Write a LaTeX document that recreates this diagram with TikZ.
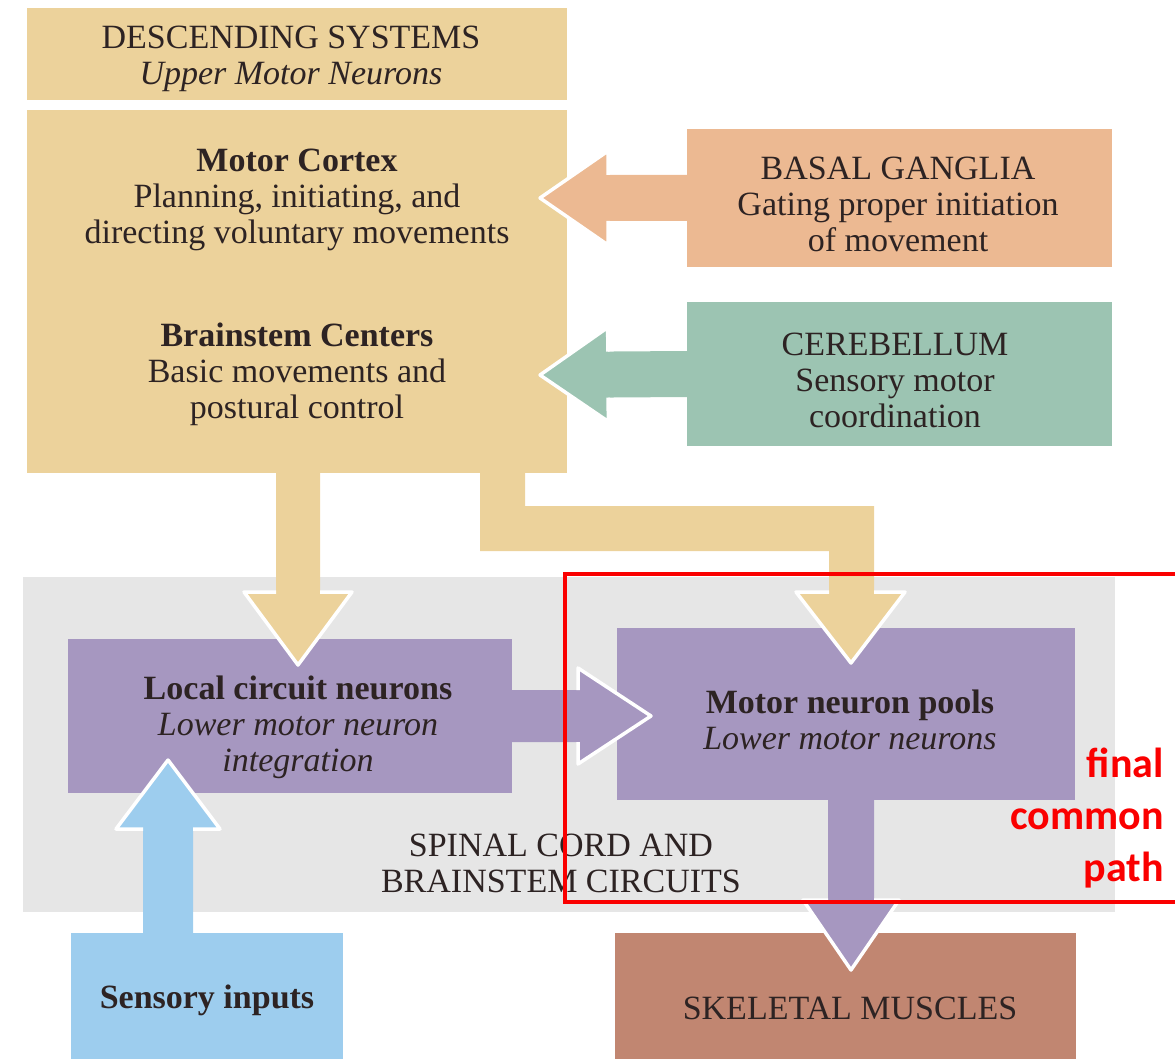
\documentclass[tikz,border=0pt]{standalone}
\usepackage{fontspec}
\setmainfont{Liberation Serif}
\newfontfamily\redfont{Carlito}
\usetikzlibrary{calc}
\definecolor{tanc}{RGB}{236,210,155}
\definecolor{bgc}{RGB}{236,185,146}
\definecolor{cbc}{RGB}{156,196,178}
\definecolor{purp}{RGB}{166,151,192}
\definecolor{bluec}{RGB}{157,205,238}
\definecolor{musc}{RGB}{193,134,113}
\definecolor{greyp}{RGB}{230,230,230}
\definecolor{ink}{RGB}{45,35,35}
\definecolor{redc}{RGB}{250,0,0}
\newcommand{\blockarr}[6]{%
  \coordinate (ba-a) at (#1);
  \coordinate (ba-b) at (#2);
  \coordinate (ba-h) at ($(ba-b)!#5!(ba-a)$);
  \fill[#6] ($(ba-a)!#3!90:(ba-b)$) -- ($(ba-h)!#3!90:(ba-b)$) -- ($(ba-h)!#4!90:(ba-b)$) -- (ba-b) -- ($(ba-h)!#4!-90:(ba-b)$) -- ($(ba-h)!#3!-90:(ba-b)$) -- ($(ba-a)!#3!-90:(ba-b)$) -- cycle;
  \draw[arrowline] ($(ba-h)!#3!90:(ba-b)$) -- ($(ba-h)!#4!90:(ba-b)$) -- (ba-b) -- ($(ba-h)!#4!-90:(ba-b)$) -- ($(ba-h)!#3!-90:(ba-b)$);
}
\tikzset{
  box/.style={rectangle, draw=none, inner sep=0pt, outer sep=0pt},
  txt/.style={font=\fontsize{34}{36}\selectfont, text=ink, align=center, inner sep=0pt},
  arrowline/.style={draw=white, line width=3.5pt, line join=round},
  redtxt/.style={font=\redfont\bfseries\fontsize{42}{52}\selectfont, text=redc, align=right, inner sep=0pt},
}
\begin{document}
\begin{tikzpicture}[x=1pt,y=-1pt]
\useasboundingbox (0,0) rectangle (1175,1059);
% panels and boxes
\node[box, fill=greyp, minimum width=1092pt, minimum height=335pt] (panel) at (569,744.5) {};
\node[box, fill=tanc, minimum width=540pt, minimum height=92pt] (desc) at (297,54) {};
\node[box, fill=tanc, minimum width=540pt, minimum height=363pt] (core) at (297,291.5) {};
\node[box, fill=bgc, minimum width=425pt, minimum height=138pt] (bg) at (899.5,198) {};
\node[box, fill=cbc, minimum width=425pt, minimum height=144pt] (cb) at (899.5,374) {};
\node[box, fill=purp, minimum width=444pt, minimum height=154pt] (local) at (290,716) {};
\node[box, fill=purp, minimum width=458pt, minimum height=172pt] (motor) at (846,714) {};
\node[box, fill=bluec, minimum width=272pt, minimum height=132pt] (sensory) at (207,999) {};
\node[box, fill=musc, minimum width=461pt, minimum height=132pt] (skel) at (845.5,999) {};
% arrow end points
\coordinate (bgtip) at (540,198);
\coordinate (cbtip) at (540,375);
\coordinate (localtip) at (298,665);
\coordinate (motortip) at (651,716);
\coordinate (skeltip) at (851,970);
\coordinate (sensstart) at (168,934);
\coordinate (senstip) at (168,760);
% arrows
\blockarr{bg.west}{bgtip}{23pt}{47pt}{68pt}{bgc}
\blockarr{cb.west}{cbtip}{23pt}{47pt}{68pt}{cbc}
\blockarr{$(core.south)+(1,-2)$}{localtip}{22pt}{54pt}{73pt}{tanc}
\blockarr{local.east}{motortip}{26pt}{48pt}{73pt}{purp}
\blockarr{$(motor.south)+(5,-2)$}{skeltip}{23pt}{48pt}{70pt}{purp}
\blockarr{sensstart}{senstip}{25pt}{52pt}{69pt}{bluec}
% bent arrow from core to motor neuron pools
\coordinate (benttip) at ($(motor.north)+(5,35)$);
\fill[tanc] (480,470) -- (480,551) -- (829,551) -- (829,592) -- (796,592) -- (benttip) -- (905,592) -- (874,592) -- (874,506) -- (525,506) -- (525,470) -- cycle;
\draw[arrowline] (829,592) -- (796,592) -- (benttip) -- (905,592) -- (874,592);
% texts
\node[txt] (t-desc) at (291,59) {DESCENDING SYSTEMS\\\itshape Upper Motor Neurons};
\node[txt] (t-mc) at (297,200) {\bfseries Motor Cortex\\Planning, initiating, and\\directing voluntary movements};
\node[txt] (t-bs) at (297,374) {\bfseries Brainstem Centers\\Basic movements and\\postural control};
\node[txt] (t-bg) at (898,204) {BASAL GANGLIA\\Gating proper initiation\\of movement};
\node[txt] (t-cb) at (895,380) {CEREBELLUM\\Sensory motor\\coordination};
\node[txt] (t-local) at (298,727) {\bfseries Local circuit neurons\\\itshape Lower motor neuron\\\itshape integration};
\node[txt] (t-motor) at (850,720) {\bfseries Motor neuron pools\\\itshape Lower motor neurons};
\node[txt] (t-panel) at (561,863) {SPINAL CORD AND\\BRAINSTEM CIRCUITS};
\node[txt] (t-sens) at (207,1000) {\bfseries Sensory inputs};
\node[txt] (t-skel) at (850,1008) {SKELETAL MUSCLES};
% final common path highlight
\draw[redc, line width=4.5pt] (565,574) rectangle (1190,902);
\node[redtxt, anchor=east] (t-final) at (1164,818) {final\\common\\path};
\end{tikzpicture}
\end{document}
